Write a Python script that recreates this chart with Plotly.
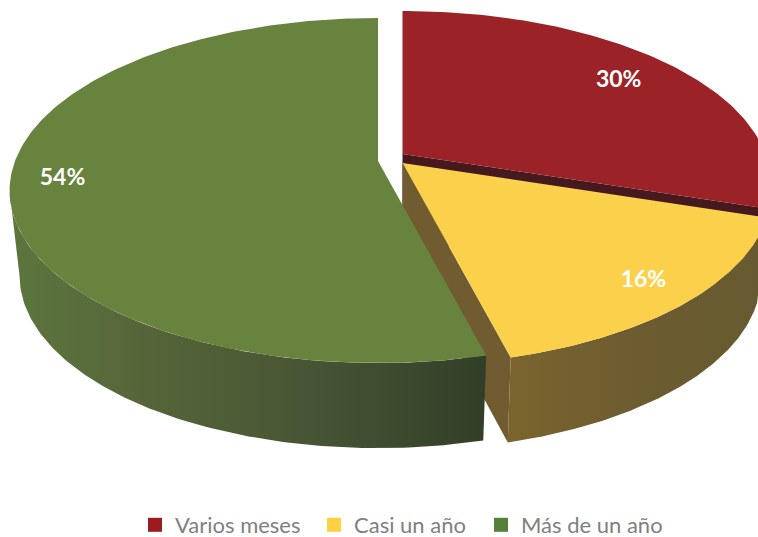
import math
import plotly.graph_objects as go

categories = ["Varios meses", "Casi un año", "Más de un año"]
values = [30, 16, 54]

top_colors = ["#9B2327", "#FBD14B", "#68833E"]
legend_colors = ["#9C1B20", "#FFD040", "#55803A"]
cut_colors = ["#46191E", "#705C30", "#34412A"]
wall_scales = [
    [[0, "#6E2226"], [1, "#5A1C20"]],
    [[0, "#7B642D"], [0.5, "#6C5C30"], [1, "#675A30"]],
    [[0, "#5C763E"], [0.3, "#566439"], [0.65, "#465434"], [1, "#323F28"]],
]

# projection of the pie disc (perspective tilt) in picture pixels
RX, RY, K = 363.0, 167.5, 0.171
DEPTH, SHRINK = 85.0, 0.973
apexes = [(402.5, 154.0), (402.5, 163.0), (378.0, 161.0)]
label_r = [0.795, 0.865, 0.86]
legend_x = [135, 314, 481]


def proj(apex, theta, r=1.0, low=False):
    u, v = r * math.sin(theta), r * math.cos(theta)
    d = 1 + K * v
    x, y = RX * u / d, -RY * v / d
    if low:
        return apex[0] + SHRINK * x, apex[1] + y + DEPTH
    return apex[0] + x, apex[1] + y


def arc(apex, a0, a1, low=False, n=120):
    pts = [proj(apex, a0 + (a1 - a0) * i / n, low=low) for i in range(n + 1)]
    return pts


def poly(pts, **kw):
    xs = [p[0] for p in pts] + [pts[0][0]]
    ys = [p[1] for p in pts] + [pts[0][1]]
    return go.Scatter(x=xs, y=ys, mode="lines", line=dict(width=0), fill="toself",
                      hoverinfo="skip", showlegend=False, **kw)


total = sum(values)
bounds = [0.0]
for v in values:
    bounds.append(bounds[-1] + 2 * math.pi * v / total)

fig = go.Figure()

# red slice: cut face at its end, top
a0, a1 = bounds[0], bounds[1]
ap = apexes[0]
fig.add_trace(poly([ap, proj(ap, a1), proj(ap, a1, low=True), (ap[0], ap[1] + DEPTH)],
                   fillcolor=cut_colors[0]))
fig.add_trace(poly([ap] + arc(ap, a0, a1), fillcolor=top_colors[0]))

# yellow slice: cut face at its end, outer wall, top
a0, a1 = bounds[1], bounds[2]
ap = apexes[1]
fig.add_trace(poly([ap, proj(ap, a1), proj(ap, a1, low=True), (ap[0], ap[1] + DEPTH)],
                   fillcolor=cut_colors[1]))
fig.add_trace(poly(arc(ap, a0, a1) + arc(ap, a1, a0, low=True),
                   fillgradient=dict(type="horizontal", colorscale=wall_scales[1])))
fig.add_trace(poly([ap] + arc(ap, a0, a1), fillcolor=top_colors[1]))

# green slice: outer wall up to the left-most point of the disc, then top
a0, a1 = bounds[2], bounds[3]
ap = apexes[2]
left = a0 + (a1 - a0) * 0.486
fig.add_trace(poly(arc(ap, a0, left) + arc(ap, left, a0, low=True),
                   fillgradient=dict(type="horizontal", colorscale=wall_scales[2])))
fig.add_trace(poly([ap] + arc(ap, a0, a1, n=240), fillcolor=top_colors[2]))

# percentage labels
for i, v in enumerate(values):
    mid = (bounds[i] + bounds[i + 1]) / 2
    x, y = proj(apexes[i], mid, r=label_r[i])
    fig.add_trace(go.Scatter(x=[x], y=[y], mode="text", text=[f"{v}%"],
                             textposition="middle center", hoverinfo="skip", showlegend=False,
                             textfont=dict(family="Lato", size=23, color="white", weight="bold")))

# legend entries, each in its own legend so that the uneven spacing can be kept
legend_layout = {}
for i, (name, c) in enumerate(zip(categories, legend_colors)):
    key = "legend" if i == 0 else f"legend{i + 1}"
    fig.add_trace(go.Scatter(x=[None], y=[None], mode="markers", name=name, legend=key,
                             marker=dict(symbol="square", size=14, color=c)))
    legend_layout[key] = dict(xref="paper", yref="paper", xanchor="left", x=legend_x[i] / 758,
                              yanchor="middle", y=(537 - 525) / 537,
                              font=dict(family="Lato", size=22, color="#7F7F7F"),
                              bgcolor="rgba(0,0,0,0)", itemwidth=30)

fig.update_layout(
    width=758, height=537, margin=dict(l=0, r=0, t=0, b=0, autoexpand=False),
    paper_bgcolor="white", plot_bgcolor="white",
    xaxis=dict(visible=False, range=[0, 758], fixedrange=True),
    yaxis=dict(visible=False, range=[537, 0], fixedrange=True),
    **legend_layout,
)
fig.write_html("out.html", post_script="document.body.style.margin='0';",
               config=dict(displayModeBar=False))
